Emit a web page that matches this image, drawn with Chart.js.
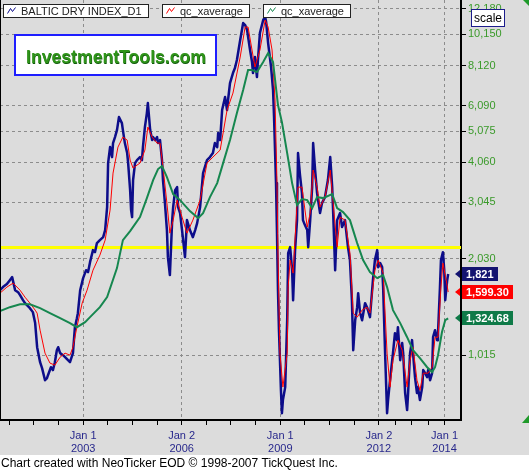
<!DOCTYPE html>
<html>
<head>
<meta charset="utf-8">
<title>Baltic Dry Index</title>
<script src="https://cdn.jsdelivr.net/npm/chart.js@4.4.1/dist/chart.umd.min.js"></script>
<style>
  html, body { margin: 0; padding: 0; background: #ffffff; }
  canvas { display: block; }
</style>
</head>
<body>
<canvas id="bdi" width="529" height="470"></canvas>
<script>
// Baltic Dry Index, dates as decimal years
const bdiDates = [
  2000.47, 2000.56, 2000.68, 2000.77, 2000.84, 2000.93, 2001.02, 2001.08, 2001.17, 2001.23,
  2001.32, 2001.38, 2001.47, 2001.54, 2001.60, 2001.69, 2001.75, 2001.78, 2001.84, 2001.90,
  2001.93, 2002.02, 2002.08, 2002.14, 2002.20, 2002.24, 2002.30, 2002.39, 2002.48, 2002.54,
  2002.60, 2002.69, 2002.75, 2002.81, 2002.84, 2002.91, 2003.00, 2003.09, 2003.15, 2003.21,
  2003.30, 2003.36, 2003.42, 2003.51, 2003.61, 2003.67, 2003.73, 2003.76, 2003.82, 2003.88,
  2003.91, 2003.97, 2004.03, 2004.09, 2004.18, 2004.21, 2004.27, 2004.34, 2004.37, 2004.43,
  2004.46, 2004.49, 2004.52, 2004.58, 2004.64, 2004.73, 2004.79, 2004.82, 2004.88, 2004.94,
  2004.97, 2005.04, 2005.10, 2005.13, 2005.19, 2005.25, 2005.28, 2005.34, 2005.40, 2005.43,
  2005.49, 2005.55, 2005.58, 2005.64, 2005.71, 2005.74, 2005.80, 2005.86, 2005.89, 2005.95,
  2006.01, 2006.10, 2006.16, 2006.25, 2006.34, 2006.41, 2006.47, 2006.56, 2006.65, 2006.77,
  2006.86, 2006.95, 2007.01, 2007.08, 2007.11, 2007.17, 2007.23, 2007.32, 2007.38, 2007.41,
  2007.47, 2007.56, 2007.62, 2007.68, 2007.78, 2007.87, 2007.93, 2007.99, 2008.08, 2008.14,
  2008.17, 2008.23, 2008.29, 2008.32, 2008.38, 2008.48, 2008.54, 2008.57, 2008.63, 2008.72,
  2008.78, 2008.81, 2008.87, 2008.90, 2008.93, 2008.96, 2008.99, 2009.02, 2009.05, 2009.08,
  2009.15, 2009.21, 2009.24, 2009.30, 2009.36, 2009.39, 2009.45, 2009.51, 2009.54, 2009.60,
  2009.66, 2009.69, 2009.75, 2009.82, 2009.85, 2009.91, 2009.97, 2010.00, 2010.06, 2010.12,
  2010.21, 2010.27, 2010.36, 2010.45, 2010.52, 2010.58, 2010.61, 2010.67, 2010.73, 2010.82,
  2010.88, 2010.97, 2011.06, 2011.12, 2011.18, 2011.22, 2011.28, 2011.34, 2011.37, 2011.43,
  2011.49, 2011.58, 2011.64, 2011.73, 2011.82, 2011.88, 2011.95, 2011.98, 2012.04, 2012.10,
  2012.13, 2012.19, 2012.25, 2012.28, 2012.34, 2012.43, 2012.49, 2012.55, 2012.58, 2012.65,
  2012.71, 2012.74, 2012.80, 2012.86, 2012.89, 2012.95, 2013.01, 2013.04, 2013.10, 2013.16,
  2013.19, 2013.25, 2013.32, 2013.35, 2013.41, 2013.47, 2013.50, 2013.56, 2013.62, 2013.65,
  2013.71, 2013.77, 2013.80, 2013.86, 2013.89, 2013.95, 2013.99, 2014.02, 2014.08, 2014.11
];
const bdiValues = [
  1621, 1657, 1693, 1742, 1780, 1621, 1598, 1564, 1509, 1477,
  1446, 1425, 1385, 1280, 1077, 967, 927, 901, 850, 863,
  881, 933, 914, 967, 1054, 1077, 1032, 1017, 996, 981,
  967, 1032, 1243, 1326, 1375, 1621, 1767, 1871, 1845, 1982,
  2160, 2129, 2272, 2321, 2371, 2494, 2941, 4032, 4523, 4209,
  4654, 4859, 5109, 5609, 5372, 5109, 4654, 4332, 4032, 3322,
  2878, 2737, 3570, 4032, 4120, 4209, 4120, 4523, 5220, 5772,
  6202, 5109, 4756, 4859, 4756, 4859, 4654, 4756, 4120, 3570,
  3026, 2494, 2054, 1806, 2679, 2941, 3322, 3394, 2941, 2817,
  2494, 2054, 2679, 2494, 2371, 2494, 2622, 2941, 3753, 4120,
  4209, 4332, 4654, 4523, 5000, 4756, 5897, 6474, 5897, 6336,
  7158, 7690, 7971, 8441, 9744, 11008, 10850, 10469, 9069, 8321,
  7690, 8625, 7472, 8441, 10245, 11247, 11492, 11087, 9536, 8028,
  6807, 5609, 3493, 2440, 1621, 1217, 981, 791, 671, 737,
  809, 1307, 2114, 2207, 1871, 1509, 2160, 2679, 4332, 3700,
  3251, 2679, 2585, 2494, 2207, 2679, 3394, 4654, 3835, 3251,
  2817, 3026, 3159, 3570, 4209, 3394, 2817, 1871, 2679, 2817,
  2548, 2679, 2207, 2011, 1509, 1054, 1307, 1435, 1587, 1375,
  1307, 1477, 1435, 1336, 1742, 2011, 2160, 1912, 1968, 1912,
  1657, 1032, 671, 737, 850, 1032, 1191, 1133, 1243, 981,
  1109, 1032, 775, 686, 775, 1032, 1133, 1032, 869, 775,
  809, 737, 809, 914, 894, 869, 914, 850, 894, 1157,
  1217, 1133, 1191, 1657, 2011, 2129, 1871, 1509, 1742, 1821
];

// fast exponential average (red)
const fastDates = [
  2000.47, 2000.68, 2000.87, 2001.08, 2001.23, 2001.38, 2001.54, 2001.60, 2001.69, 2001.84,
  2001.99, 2002.14, 2002.30, 2002.45, 2002.60, 2002.69, 2002.81, 2002.97, 2003.12, 2003.30,
  2003.51, 2003.67, 2003.82, 2003.91, 2004.06, 2004.21, 2004.34, 2004.43, 2004.52, 2004.64,
  2004.73, 2004.88, 2004.97, 2005.10, 2005.25, 2005.34, 2005.43, 2005.55, 2005.64, 2005.74,
  2005.86, 2006.01, 2006.16, 2006.34, 2006.56, 2006.77, 2006.95, 2007.17, 2007.38, 2007.56,
  2007.78, 2007.93, 2008.02, 2008.14, 2008.23, 2008.38, 2008.54, 2008.63, 2008.75, 2008.84,
  2008.90, 2008.93, 2008.99, 2009.08, 2009.21, 2009.24, 2009.30, 2009.39, 2009.54, 2009.66,
  2009.82, 2009.91, 2010.00, 2010.12, 2010.21, 2010.36, 2010.52, 2010.61, 2010.73, 2010.82,
  2010.97, 2011.12, 2011.22, 2011.34, 2011.49, 2011.64, 2011.73, 2011.88, 2011.98, 2012.13,
  2012.25, 2012.34, 2012.43, 2012.58, 2012.71, 2012.86, 2012.95, 2013.04, 2013.16, 2013.25,
  2013.35, 2013.50, 2013.62, 2013.71, 2013.80, 2013.89, 2013.95, 2014.05, 2014.11
];
const fastValues = [
  1587, 1657, 1705, 1621, 1542, 1477, 1405, 1375, 1217, 1032,
  961, 947, 1003, 1032, 1017, 1077, 1243, 1477, 1621, 1871,
  2084, 2321, 2878, 3753, 4523, 4859, 4756, 4120, 3890, 3975,
  4032, 4427, 5220, 4859, 4654, 4654, 3918, 3026, 2440, 2679,
  3092, 2737, 2440, 2679, 3092, 4032, 4209, 4427, 5897, 6662,
  8625, 10696, 10696, 9069, 8028, 9069, 11247, 10696, 9069, 6336,
  3493, 2114, 1032, 809, 1032, 1657, 2011, 1832, 3394, 3394,
  2548, 2817, 3835, 3394, 2941, 3159, 3835, 3026, 2207, 2737,
  2679, 2114, 1375, 1336, 1405, 1435, 1375, 1871, 2011, 1832,
  1032, 809, 981, 1133, 1054, 809, 981, 1077, 850, 791,
  894, 894, 933, 1157, 1157, 1657, 1968, 1742, 1599.30
];

// slow exponential average (green)
const slowDates = [
  2000.47, 2000.77, 2001.08, 2001.38, 2001.69, 2001.99, 2002.30, 2002.60, 2002.81, 2003.06,
  2003.21, 2003.51, 2003.73, 2004.03, 2004.21, 2004.43, 2004.73, 2004.94, 2005.13, 2005.28,
  2005.40, 2005.55, 2005.74, 2005.95, 2006.25, 2006.50, 2006.65, 2006.86, 2007.08, 2007.26,
  2007.47, 2007.68, 2007.87, 2008.02, 2008.14, 2008.29, 2008.48, 2008.63, 2008.78, 2008.93,
  2009.05, 2009.21, 2009.36, 2009.51, 2009.66, 2009.82, 2009.97, 2010.12, 2010.30, 2010.58,
  2010.73, 2010.91, 2011.12, 2011.34, 2011.52, 2011.73, 2011.95, 2012.13, 2012.25, 2012.43,
  2012.65, 2012.86, 2013.04, 2013.25, 2013.47, 2013.62, 2013.71, 2013.80, 2013.92, 2014.02,
  2014.11
];
const slowValues = [
  1395, 1435, 1466, 1466, 1425, 1375, 1326, 1280, 1243, 1289,
  1336, 1435, 1542, 1899, 2321, 2476, 2737, 3137, 3570, 3863,
  3946, 3647, 3228, 3092, 2858, 2718, 2817, 3159, 3493, 4032,
  4756, 5772, 6807, 7857, 7857, 7745, 8321, 8876, 8321, 6114,
  5411, 4332, 3493, 2983, 3114, 3092, 2920, 3159, 3137, 3228,
  2920, 2837, 2679, 2272, 2011, 1845, 1767, 1806, 1657, 1405,
  1280, 1157, 1054, 996, 933, 901, 933, 1017, 1199, 1307,
  1324.68
];

const seriesNames = ['BALTIC DRY INDEX_D1', 'qc_xaverage', 'qc_xaverage'];
const yTickValues = [1015, 2030, 3045, 4060, 5075, 6090, 8120, 10150, 12180];
const xMajorTicks = [2003, 2006, 2009, 2012, 2014];
const xMajorLabels = [['Jan 1', '2003'], ['Jan 2', '2006'], ['Jan 1', '2009'], ['Jan 2', '2012'], ['Jan 1', '2014']];
const xMinorTicks = [2000.75, 2001.5, 2002.25, 2003.75, 2004.5, 2005.25, 2006.75, 2007.5, 2008.25,
  2009.75, 2010.5, 2011.25, 2012.5, 2013, 2013.5];
const xRange = [2000.47, 2014.5];
const yRange = [639, 12985];
const supportLevel = 2200;

const FONT = "'Liberation Sans', Arial, sans-serif";
const BLUE = '#0d0d8a';
const RED = '#ff0000';
const GREEN = '#16874f';
const GRID = '#8c8c8c';

const toPoints = (xs, ys) => xs.map((x, i) => ({ x: x, y: ys[i] }));

const fmtLast = [
  v => Math.round(v).toLocaleString('en-US'),
  v => v.toLocaleString('en-US', { minimumFractionDigits: 2, maximumFractionDigits: 2 }),
  v => v.toLocaleString('en-US', { minimumFractionDigits: 2, maximumFractionDigits: 2 })
];
const tagColors = ['#141470', '#ff0000', '#0f7a48'];

function zigzag(ctx, x, y, color) {
  ctx.strokeStyle = color;
  ctx.lineWidth = 1;
  ctx.beginPath();
  ctx.moveTo(x, y + 6);
  ctx.lineTo(x + 3, y + 1);
  ctx.lineTo(x + 5, y + 4);
  ctx.lineTo(x + 8, y);
  ctx.stroke();
}

const decorations = {
  id: 'decorations',
  beforeDraw(chart) {
    const { ctx, width, height } = chart;
    ctx.save();
    ctx.fillStyle = '#dcdcdc';
    ctx.fillRect(0, 0, width, height);
    ctx.fillStyle = '#ffffff';
    ctx.fillRect(0, height - 15, width, 15);
    ctx.restore();
  },
  beforeDatasetsDraw(chart) {
    const { ctx, chartArea: a, scales: { y } } = chart;
    const py = y.getPixelForValue(supportLevel);
    ctx.save();
    ctx.strokeStyle = '#ffff00';
    ctx.lineWidth = 3;
    ctx.beginPath();
    ctx.moveTo(a.left, py);
    ctx.lineTo(a.right, py);
    ctx.stroke();
    ctx.restore();
  },
  afterDraw(chart) {
    const { ctx, chartArea: a, scales: { y }, width, height } = chart;
    ctx.save();

    // left frame line
    ctx.strokeStyle = '#000';
    ctx.lineWidth = 1;
    ctx.beginPath();
    ctx.moveTo(a.left + 0.5, a.top);
    ctx.lineTo(a.left + 0.5, a.bottom);
    ctx.stroke();

    // series captions
    ctx.font = '11px ' + FONT;
    ctx.textBaseline = 'alphabetic';
    const capColors = [BLUE, RED, GREEN];
    let bx = 3;
    seriesNames.forEach((name, i) => {
      const w = Math.round(ctx.measureText(name).width) + 24;
      ctx.fillStyle = '#fff';
      ctx.fillRect(bx, 4, w, 13);
      ctx.strokeStyle = '#222';
      ctx.lineWidth = 1;
      ctx.strokeRect(bx + 0.5, 4.5, w, 13);
      zigzag(ctx, bx + 4.5, 7.5, capColors[i]);
      ctx.fillStyle = '#222';
      ctx.fillText(name, bx + 18, 15);
      bx += w + 14;
    });

    // watermark
    ctx.fillStyle = '#fff';
    ctx.fillRect(15, 35, 201, 40);
    ctx.strokeStyle = '#1e1eff';
    ctx.lineWidth = 2;
    ctx.strokeRect(15, 35, 201, 40);
    ctx.font = 'bold 19px ' + FONT;
    ctx.textAlign = 'center';
    ctx.fillStyle = '#0f5a0a';
    ctx.fillText('InvestmentTools.com', 116.5, 63.5, 180);
    ctx.fillStyle = '#2f9419';
    ctx.fillText('InvestmentTools.com', 116, 63, 180);

    // scale button
    ctx.fillStyle = '#fff';
    ctx.fillRect(471, 9, 33, 17);
    ctx.strokeStyle = '#1c1c8c';
    ctx.lineWidth = 1;
    ctx.strokeRect(471.5, 9.5, 33, 17);
    ctx.font = '12px ' + FONT;
    ctx.fillStyle = '#000';
    ctx.fillText('scale', 488, 22);

    // last value tags
    ctx.textAlign = 'left';
    ctx.font = 'bold 11px ' + FONT;
    chart.data.datasets.forEach((ds, i) => {
      const v = ds.data[ds.data.length - 1].y;
      const py = Math.round(y.getPixelForValue(v));
      const txt = fmtLast[i](v);
      const w = Math.round(ctx.measureText(txt).width) + 8;
      ctx.fillStyle = tagColors[i];
      ctx.beginPath();
      ctx.moveTo(a.right - 6, py);
      ctx.lineTo(a.right - 1, py - 4);
      ctx.lineTo(a.right - 1, py + 4);
      ctx.closePath();
      ctx.fill();
      ctx.fillRect(a.right + 1, py - 7, w, 14);
      ctx.fillStyle = '#fff';
      ctx.fillText(txt, a.right + 5, py + 4);
    });

    // corner marks
    ctx.fillStyle = '#1f9a2a';
    ctx.beginPath();
    ctx.moveTo(width - 6, 0); ctx.lineTo(width, 0); ctx.lineTo(width, 6);
    ctx.closePath(); ctx.fill();
    ctx.beginPath();
    ctx.moveTo(width - 7, a.bottom + 3); ctx.lineTo(width, a.bottom - 5); ctx.lineTo(width, a.bottom + 3);
    ctx.closePath(); ctx.fill();

    // footer
    ctx.font = '12px ' + FONT;
    ctx.fillStyle = '#000';
    ctx.fillText('Chart created with NeoTicker EOD \u00a9 1998-2007 TickQuest Inc.', 1, height - 3);
    ctx.restore();
  }
};

new Chart(document.getElementById('bdi'), {
  type: 'line',
  data: {
    datasets: [
      { label: seriesNames[0], data: toPoints(bdiDates, bdiValues), borderColor: BLUE, borderWidth: 2.5,
        borderJoinStyle: 'round', pointRadius: 0, tension: 0, order: 3 },
      { label: seriesNames[1], data: toPoints(fastDates, fastValues), borderColor: RED, borderWidth: 1,
        pointRadius: 0, tension: 0, order: 2 },
      { label: seriesNames[2], data: toPoints(slowDates, slowValues), borderColor: GREEN, borderWidth: 2,
        pointRadius: 0, tension: 0, order: 1 }
    ]
  },
  options: {
    responsive: false,
    devicePixelRatio: 1,
    animation: false,
    layout: { padding: { left: 0, top: 0, right: 0, bottom: 15 } },
    plugins: {
      legend: { display: false },
      tooltip: { enabled: false }
    },
    scales: {
      x: {
        type: 'linear',
        position: 'bottom',
        min: xRange[0],
        max: xRange[1],
        afterBuildTicks: s => {
          s.ticks = xMinorTicks.concat(xMajorTicks).sort((p, q) => p - q).map(v => ({ value: v }));
        },
        afterFit: s => { s.height = 35; s.paddingLeft = 0; s.paddingRight = 0; },
        ticks: {
          autoSkip: false,
          maxRotation: 0,
          padding: 4,
          color: '#28288c',
          font: { family: FONT, size: 11 },
          callback: v => {
            const i = xMajorTicks.indexOf(v);
            return i >= 0 ? xMajorLabels[i] : '';
          }
        },
        grid: {
          color: c => (c.tick && xMajorTicks.includes(c.tick.value)) ? GRID : 'rgba(0,0,0,0)',
          tickColor: '#000',
          tickLength: 5,
          tickBorderDash: [],
          lineWidth: 1
        },
        border: { color: '#000', width: 2, dash: [3, 3] }
      },
      y: {
        type: 'logarithmic',
        position: 'right',
        min: yRange[0],
        max: yRange[1],
        afterBuildTicks: s => { s.ticks = yTickValues.map(v => ({ value: v })); },
        afterFit: s => { s.width = 68; s.paddingTop = 0; s.paddingBottom = 0; },
        ticks: {
          autoSkip: false,
          padding: 2,
          color: '#3a9a2a',
          font: { family: FONT, size: 11 },
          callback: v => Number(v).toLocaleString('en-US')
        },
        grid: {
          color: GRID,
          tickColor: '#000',
          tickLength: 5,
          tickBorderDash: [],
          lineWidth: 1
        },
        border: { color: '#000', width: 2, dash: [3, 3] }
      }
    }
  },
  plugins: [decorations]
});
</script>
</body>
</html>
